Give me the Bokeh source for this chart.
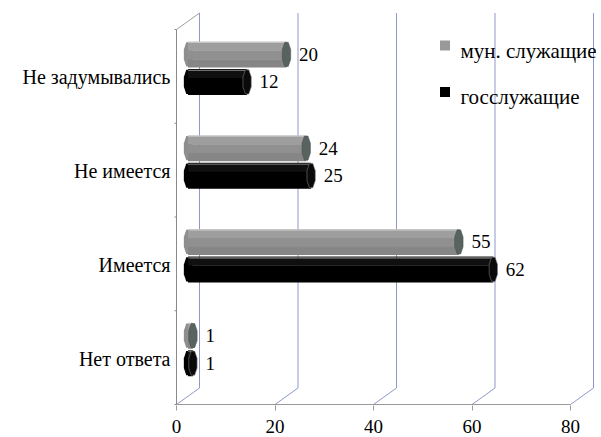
from bokeh.plotting import figure
from bokeh.models import Range1d, FixedTicker, CustomJSTickFormatter
from bokeh.embed import file_html
from bokeh.resources import INLINE
from bokeh.core.properties import value
import numpy as np

# ---- data (bottom to top) ----
categories = ["Нет ответа", "Имеется", "Не имеется", "Не задумывались"]
mun_values = [1, 55, 24, 20]
gos_values = [1, 62, 25, 12]
series_names = ["мун. служащие", "госслужащие"]
x_ticks = [0, 20, 40, 60, 80]

FONT = "Liberation Serif"

# ---- layout / scale constants ----
PX_X = 4.925          # px per value unit
PX_Y = 93.75          # px per category
FRAME_W, FRAME_H = 422, 395
X0 = -2 / PX_X
Y0 = -1 / PX_Y
DXB, DYB = 23 / PX_X, 16.5 / PX_Y          # depth of the back wall
DXM, DYM = DXB / 2, DYB / 2                # bars sit at mid depth
BAR_H = 26 / PX_Y
BAR_OFF = 13.75 / PX_Y
CAP_RX = 4.5 / PX_X
WALL_TOP = 4.0

GRID = "#8f98cc"
AXIS = "#9a9a9a"

p = figure(frame_width=FRAME_W, frame_height=FRAME_H,
           x_range=Range1d(X0, X0 + FRAME_W / PX_X),
           y_range=Range1d(Y0, Y0 + FRAME_H / PX_Y),
           output_backend="svg", toolbar_location=None,
           min_border_left=174, min_border_right=0, min_border_top=10, min_border_bottom=20)
p.outline_line_color = None
p.xgrid.visible = False
p.ygrid.visible = False
p.background_fill_color = "white"


def px2x(px):
    return (px - 178) / PX_X


def px2y(py):
    return (404 - py) / PX_Y


# ---- walls / gridlines ----
back_x = [t + DXB for t in x_ticks]
p.segment(x0=back_x, y0=[DYB] * len(x_ticks), x1=back_x, y1=[WALL_TOP + DYB] * len(x_ticks),
          line_color=GRID, line_width=1)
p.segment(x0=x_ticks, y0=[0] * len(x_ticks), x1=back_x, y1=[DYB] * len(x_ticks),
          line_color=GRID, line_width=1)
# left wall
p.segment(x0=[0], y0=[0], x1=[0], y1=[WALL_TOP], line_color="#8a8a8a", line_width=1)
p.segment(x0=[0], y0=[WALL_TOP], x1=[DXB], y1=[WALL_TOP + DYB], line_color="#a0a0a0", line_width=1)
# floor front edge
p.segment(x0=[0], y0=[0], x1=[x_ticks[-1]], y1=[0], line_color=AXIS, line_width=1)
# category boundary ticks on the left wall
bounds = list(range(len(categories) + 1))
p.segment(x0=[-5 / PX_X] * len(bounds), y0=bounds, x1=[0] * len(bounds), y1=bounds,
          line_color="#8a8a8a", line_width=1)

# ---- 3D-ish bars (octagonal prisms: top facet, face, bottom facet) ----
idx = np.arange(len(categories))
series = [
    (mun_values, +BAR_OFF,
     [(0.00, 0.07, "#c4c4c4"), (0.06, 0.36, "#9e9e9e"), (0.35, 0.70, "#909090"), (0.69, 1.00, "#868686")],
     "#8e8e8e", "#58625f", "#4a5250"),
    (gos_values, -BAR_OFF,
     [(0.00, 0.05, "#1a1a1a"), (0.04, 0.09, "#707070"), (0.08, 0.36, "#101010"), (0.35, 1.00, "#000000")],
     "#000000", "#0a0a0a", "#7a7a7a"),
]
ang = np.deg2rad(22.5 + 45 * np.arange(8))
for vals, off, strips, body_col, cap_col, cap_line in series:
    vals = np.array(vals, dtype=float)
    yc = idx + 0.5 + DYM + off
    top = yc + BAR_H / 2
    # left rounded end
    p.patches(xs=[list(DXM + CAP_RX * np.cos(ang)) for _ in vals],
              ys=[list(y + BAR_H / 2 * np.sin(ang)) for y in yc],
              fill_color=body_col, line_color=None)
    for f0, f1, col in strips:
        p.hbar(y=top - (f0 + f1) / 2 * BAR_H, left=DXM, right=vals + DXM,
               height=(f1 - f0) * BAR_H, fill_color=col, line_color=None)
    # end cap
    p.patches(xs=[list(v + DXM + CAP_RX * np.cos(ang)) for v in vals],
              ys=[list(y + BAR_H / 2 * np.sin(ang)) for y in yc],
              fill_color=cap_col, line_color=cap_line, line_width=0.6)
    # value labels
    p.text(x=vals + DXM + CAP_RX + 8 / PX_X, y=yc,
           text=[str(int(v)) for v in vals],
           text_font=value(FONT), text_font_size="19px", text_color="black",
           text_align="left", text_baseline="middle")

# ---- legend (drawn manually) ----
leg_cols = ["#999999", "#000000"]
leg_c = [45, 91.5]
p.rect(x=[px2x(446.5)] * 2, y=[px2y(c) for c in leg_c], width=10 / PX_X, height=10 / PX_Y,
       fill_color=leg_cols, line_color=None)
p.text(x=[px2x(462)] * 2, y=[px2y(c + 5) for c in leg_c], text=series_names,
       text_font=value(FONT), text_font_size="21px", text_color="black",
       text_align="left", text_baseline="alphabetic")

# ---- axes ----
xa = p.xaxis[0]
xa.ticker = FixedTicker(ticks=x_ticks)
xa.axis_line_color = None
xa.major_tick_out = 5
xa.major_tick_in = 0
xa.major_tick_line_color = AXIS
xa.minor_tick_line_color = None
xa.major_label_standoff = 9
xa.major_label_text_font = FONT
xa.major_label_text_font_size = "19px"
xa.major_label_text_color = "black"

ya = p.yaxis[0]
ya.ticker = FixedTicker(ticks=[i + 0.49 for i in range(len(categories))])
ya.formatter = CustomJSTickFormatter(args=dict(labels=categories), code="return labels[index];")
ya.axis_line_color = None
ya.major_tick_line_color = None
ya.major_tick_out = 0
ya.major_tick_in = 0
ya.minor_tick_line_color = None
ya.major_label_standoff = 4
ya.major_label_text_font = FONT
ya.major_label_text_font_size = "20px"
ya.major_label_text_color = "black"

open("out.html", "w").write(file_html(p, INLINE))
